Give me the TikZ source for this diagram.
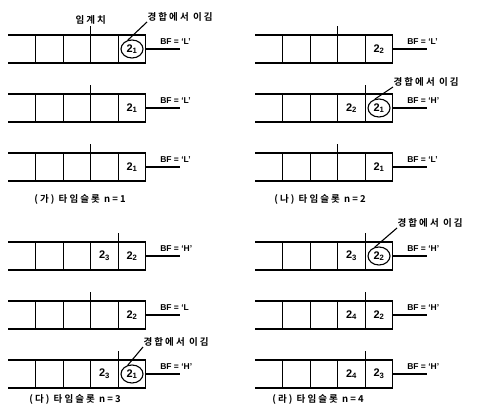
\documentclass[tikz,border=0pt]{standalone}
\usepackage{fontspec}
\setmainfont{Liberation Sans}
\newfontfamily\kr{Noto Sans CJK KR}[LetterSpace=22, BoldFont={* Bold}]
\usetikzlibrary{positioning,shapes.geometric}
\newcommand\slot[1]{2\textsubscript{#1}}

\begin{document}
\begin{tikzpicture}[x=1pt, y=-1pt, line width=1.1pt,
	cell/.style={ draw, minimum width=27.5pt, minimum height=28pt, inner sep=0pt, outer sep=0pt, font=\bfseries\fontsize{11}{11}\selectfont },
	won/.style={ ellipse, draw, minimum width=22pt, minimum height=18pt, inner sep=0pt },
	bf/.style={ font=\bfseries\fontsize{8.5}{8.5}\selectfont, inner sep=0pt },
	kor/.style={ font=\kr\bfseries\fontsize{9.5}{9.5}\selectfont, inner sep=0pt }
]
\useasboundingbox (0,0) rectangle (478,408);

% one queue per row: name / shift / threshold / two last slots / BF
\foreach \n/\x/\y/\t/\u/\v/\f in {
	a1/0/0/2/{}/{\slot1}/{`L'}, a2/0/59/2/{}/{\slot1}/{`L'}, a3/0/118/2/{}/{\slot1}/{`L'},
	b1/247/0/2/{}/{\slot2}/{`L'}, b2/247/59/3/{\slot2}/{\slot1}/{`H'}, b3/247/118/2/{}/{\slot1}/{`L'},
	c1/0/207/3/{\slot3}/{\slot2}/{`H'}, c2/0/266/2/{}/{\slot2}/{`L}, c3/0/325/3/{\slot3}/{\slot1}/{`H'},
	d1/247/207/3/{\slot3}/{\slot2}/{`H'}, d2/247/266/3/{\slot4}/{\slot2}/{`H'}, d3/247/325/3/{\slot4}/{\slot3}/{`H'}}
{
	\begin{scope}[shift={(\x,\y)}]
		\foreach \k in {1,2} \node[cell] (\n c\k) at (22+27.5*\k,49) {};
		\node[cell] (\n c3) at (104.5,49) {\u};
		\node[cell] (\n c4) at (132,49) {\v};
		\draw (\n c1.north west) -- ++(-28,0) (\n c1.south west) -- ++(-28,0);
		\draw (\n c\t.north east) -- ++(0,-9) coordinate (\n t);
		\draw (\n c4.east) -- ++(34,0);
		\node[bf, anchor=south west] (\n f) at ([xshift=14pt,yshift=4pt]\n c4.east) {BF = \f};
	\end{scope}
}

\node[kor, above=1pt of a1t] (thr) {임계치};

\node[won] (a1w) at (a1c4) {};
\node[kor, anchor=west] (a1l) at (147,17) {경합에서 이김};
\draw (a1l.south west) -- (a1w.115);

\node[won] (b2w) at (b2c4) {};
\node[kor, anchor=west] (b2l) at (393,82) {경합에서 이김};
\draw (b2l.south west) -- (b2w.115);

\node[won] (c3w) at (c3c4) {};
\node[kor, anchor=west] (c3l) at (143,342) {경합에서 이김};
\draw (c3l.south west) -- (c3w.115);

\node[won] (d1w) at (d1c4) {};
\node[kor, anchor=west] (d1l) at (397,223) {경합에서 이김};
\draw (d1l.south west) -- (d1w.115);

\node[kor] (ta) at (80,199) {(가) 타임슬롯 n=1};
\node[kor] (tb) at (320,199) {(나) 타임슬롯 n=2};
\node[kor] (tc) at (75,399) {(다) 타임슬롯 n=3};
\node[kor] (td) at (318,399) {(라) 타임슬롯 n=4};

\end{tikzpicture}
\end{document}
